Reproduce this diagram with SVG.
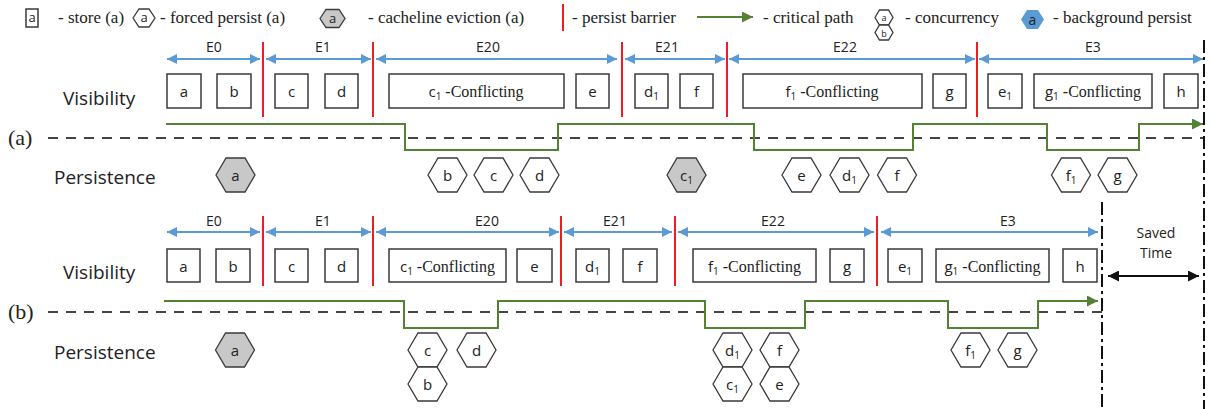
<svg xmlns="http://www.w3.org/2000/svg" xmlns:xlink="http://www.w3.org/1999/xlink" width="1210" height="409" viewBox="0 0 1210 409">
<style>
.box{fill:#fff;stroke:#3a3a3a;stroke-width:1.5}
.hex{fill:#fff;stroke:#3a3a3a;stroke-width:1.3}
.hexg{fill:#c8c8c8;stroke:#3a3a3a;stroke-width:1.3}
.sans{font-family:"Open Sans","Liberation Sans",sans-serif;fill:#222}
.serif{font-family:"Liberation Serif","Times New Roman",serif;fill:#222}
.bt{font-family:"Open Sans","Liberation Sans",sans-serif;font-size:15px;fill:#222;text-anchor:middle}
.lbl{font-family:"Open Sans","Liberation Sans",sans-serif;font-size:19px;fill:#222}
.elbl{font-family:"Open Sans","Liberation Sans",sans-serif;font-size:14px;fill:#222;text-anchor:middle}
.leg{font-family:"Liberation Serif","Times New Roman",serif;font-size:17px;fill:#222}
.sub{font-size:10px}
.blue{stroke:#5b9bd5;stroke-width:2;fill:none;marker-start:url(#ab);marker-end:url(#ab)}
.red{stroke:#ee1c25;stroke-width:2}
.green{stroke:#548235;stroke-width:2;fill:none}
.dash{stroke:#444;stroke-width:2;stroke-dasharray:10 8;fill:none}
.vdash{stroke:#111;stroke-width:2;stroke-dasharray:13 4 3 4;fill:none}
</style>
<defs>
<marker id="ab" viewBox="0 0 10 10" refX="10" refY="5" markerWidth="11" markerHeight="10" markerUnits="userSpaceOnUse" orient="auto-start-reverse"><path d="M0,0 L10,5 L0,10 z" fill="#5b9bd5"/></marker>
<marker id="ag" viewBox="0 0 10 10" refX="10" refY="5" markerWidth="12" markerHeight="11" markerUnits="userSpaceOnUse" orient="auto"><path d="M0,0 L10,5 L0,10 z" fill="#548235"/></marker>
<marker id="ak" viewBox="0 0 10 10" refX="10" refY="5" markerWidth="12" markerHeight="11" markerUnits="userSpaceOnUse" orient="auto-start-reverse"><path d="M0,0 L10,5 L0,10 z" fill="#111"/></marker>
<polygon id="hx" points="-19.5,0 -9.5,-17 9.5,-17 19.5,0 9.5,17 -9.5,17"/>
</defs>

<!-- Legend -->
<g id="legend">
  <rect x="26" y="9" width="12" height="18" class="box"/>
  <text x="32" y="22" class="sans" font-size="13" text-anchor="middle">a</text>
  <text x="58" y="23" class="leg">- store (a)</text>
  <polygon points="133,18 139,9 149,9 155,18 149,27 139,27" class="hex"/>
  <text x="144" y="22" class="sans" font-size="13" text-anchor="middle">a</text>
  <text x="160" y="23" class="leg">- forced persist (a)</text>
  <polygon points="320,18.5 326,9.5 339,9.5 345,18.5 339,27.5 326,27.5" class="hexg"/>
  <text x="332.5" y="23" class="sans" font-size="13" text-anchor="middle">a</text>
  <text x="368" y="23" class="leg">- cacheline eviction (a)</text>
  <line x1="563" y1="4" x2="563" y2="31" class="red"/>
  <text x="572" y="23" class="leg">- persist barrier</text>
  <line x1="697" y1="17" x2="753" y2="17" class="green" marker-end="url(#ag)"/>
  <text x="763" y="23" class="leg">- critical path</text>
  <polygon points="875,17.5 879.5,10 888.5,10 893,17.5 888.5,25 879.5,25" class="hex" stroke-width="1"/>
  <polygon points="875,32.5 879.5,25 888.5,25 893,32.5 888.5,40 879.5,40" class="hex" stroke-width="1"/>
  <text x="884" y="21" class="sans" font-size="9" text-anchor="middle">a</text>
  <text x="884" y="36.5" class="sans" font-size="9" text-anchor="middle">b</text>
  <text x="905" y="23" class="leg">- concurrency</text>
  <polygon points="1021,19.5 1027,10 1038,10 1044,19.5 1038,29 1027,29" fill="#5b9bd5"/>
  <text x="1032.5" y="24.5" class="sans" font-size="14" text-anchor="middle">a</text>
  <text x="1053" y="23" class="leg">- background persist</text>
</g>

<!-- Labels -->
<g id="labels">
  <text x="63" y="105" class="lbl">Visibility</text>
  <text x="54" y="184" class="lbl">Persistence</text>
  <text x="8" y="145" class="serif" font-size="22">(a)</text>
  <text x="63" y="279" class="lbl">Visibility</text>
  <text x="54" y="359" class="lbl">Persistence</text>
  <text x="8" y="319" class="serif" font-size="22">(b)</text>
  <text x="1156" y="238" class="elbl">Saved</text>
  <text x="1156" y="258" class="elbl">Time</text>
</g>

<!-- Connectors -->
<g id="connectors">
  <!-- (a) epoch arrows -->
  <line x1="167" y1="59" x2="260" y2="59" class="blue"/>
  <line x1="266" y1="59" x2="371" y2="59" class="blue"/>
  <line x1="376" y1="59" x2="617" y2="59" class="blue"/>
  <line x1="625" y1="59" x2="725" y2="59" class="blue"/>
  <line x1="729" y1="59" x2="975" y2="59" class="blue"/>
  <line x1="979" y1="59" x2="1203" y2="59" class="blue"/>
  <!-- (a) barriers -->
  <line x1="263" y1="42" x2="263" y2="117" class="red"/>
  <line x1="373" y1="42" x2="373" y2="117" class="red"/>
  <line x1="622" y1="42" x2="622" y2="117" class="red"/>
  <line x1="727" y1="42" x2="727" y2="117" class="red"/>
  <line x1="977" y1="42" x2="977" y2="117" class="red"/>
  <!-- (a) critical path -->
  <line x1="48" y1="138" x2="1203" y2="138" class="dash"/>
  <path d="M166,124 H405 V150 H558 V124 H754 V150 H913 V124 H1047 V150 H1139 V124 H1203" class="green" marker-end="url(#ag)"/>
  <!-- (b) epoch arrows -->
  <line x1="167" y1="232" x2="260" y2="232" class="blue"/>
  <line x1="266" y1="232" x2="371" y2="232" class="blue"/>
  <line x1="376" y1="232" x2="559" y2="232" class="blue"/>
  <line x1="564" y1="232" x2="672" y2="232" class="blue"/>
  <line x1="678" y1="232" x2="874" y2="232" class="blue"/>
  <line x1="881" y1="232" x2="1098" y2="232" class="blue"/>
  <!-- (b) barriers -->
  <line x1="263" y1="216" x2="263" y2="286" class="red"/>
  <line x1="373" y1="216" x2="373" y2="286" class="red"/>
  <line x1="561" y1="216" x2="561" y2="286" class="red"/>
  <line x1="675" y1="216" x2="675" y2="286" class="red"/>
  <line x1="877" y1="216" x2="877" y2="286" class="red"/>
  <!-- (b) critical path -->
  <line x1="48" y1="312" x2="1102" y2="312" class="dash" stroke="#222" stroke-width="1.6"/>
  <path d="M164,301 H404 V328 H498 V301 H705 V328 H805 V301 H948 V328 H1038 V301 H1098" class="green" marker-end="url(#ag)"/>
  <!-- vertical markers and saved time -->
  <line x1="1204" y1="40" x2="1204" y2="409" class="vdash"/>
  <line x1="1102" y1="202" x2="1102" y2="409" class="vdash"/>
  <line x1="1108" y1="276" x2="1199" y2="276" stroke="#111" stroke-width="2" marker-start="url(#ak)" marker-end="url(#ak)"/>
</g>

<!-- Epoch labels -->
<g id="epochs">
  <text x="214" y="52" class="elbl">E0</text>
  <text x="323" y="52" class="elbl">E1</text>
  <text x="488" y="52" class="elbl">E20</text>
  <text x="667" y="52" class="elbl">E21</text>
  <text x="845" y="52" class="elbl">E22</text>
  <text x="1093" y="52" class="elbl">E3</text>
  <text x="214" y="226" class="elbl">E0</text>
  <text x="323" y="226" class="elbl">E1</text>
  <text x="487" y="226" class="elbl">E20</text>
  <text x="615" y="226" class="elbl">E21</text>
  <text x="773" y="226" class="elbl">E22</text>
  <text x="1008" y="226" class="elbl">E3</text>
</g>

<!-- (a) Visibility stores -->
<g id="va-a"><rect x="167" y="74" width="34" height="34" class="box"/><text x="184" y="97" class="bt">a</text></g>
<g id="va-b"><rect x="217" y="74" width="34" height="34" class="box"/><text x="234" y="97" class="bt">b</text></g>
<g id="va-c"><rect x="275" y="74" width="33" height="34" class="box"/><text x="291.5" y="97" class="bt">c</text></g>
<g id="va-d"><rect x="325" y="74" width="33" height="34" class="box"/><text x="341.5" y="97" class="bt">d</text></g>
<g id="va-c1"><rect x="389" y="74" width="175" height="34" class="box"/><text x="476" y="97" class="bt"><tspan>c</tspan><tspan class="sub" dy="3">1</tspan><tspan dy="-3" class="serif" font-size="16"> -Conflicting</tspan></text></g>
<g id="va-e"><rect x="576" y="74" width="33" height="34" class="box"/><text x="592.5" y="97" class="bt">e</text></g>
<g id="va-d1"><rect x="635" y="74" width="33" height="34" class="box"/><text x="651.5" y="97" class="bt"><tspan>d</tspan><tspan class="sub" dy="3">1</tspan></text></g>
<g id="va-f"><rect x="680" y="74" width="33" height="34" class="box"/><text x="696.5" y="97" class="bt">f</text></g>
<g id="va-f1"><rect x="743" y="74" width="179" height="34" class="box"/><text x="832" y="97" class="bt"><tspan>f</tspan><tspan class="sub" dy="3">1</tspan><tspan dy="-3" class="serif" font-size="16"> -Conflicting</tspan></text></g>
<g id="va-g"><rect x="933" y="74" width="33" height="34" class="box"/><text x="949.5" y="97" class="bt">g</text></g>
<g id="va-e1"><rect x="988" y="74" width="34" height="34" class="box"/><text x="1005" y="97" class="bt"><tspan>e</tspan><tspan class="sub" dy="3">1</tspan></text></g>
<g id="va-g1"><rect x="1034" y="74" width="118" height="34" class="box"/><text x="1093" y="97" class="bt"><tspan>g</tspan><tspan class="sub" dy="3">1</tspan><tspan dy="-3" class="serif" font-size="16"> -Conflicting</tspan></text></g>
<g id="va-h"><rect x="1164" y="74" width="34" height="34" class="box"/><text x="1181" y="97" class="bt">h</text></g>

<!-- (a) Persistence -->
<g id="pa-a" transform="translate(235.5,175)"><use xlink:href="#hx" class="hexg"/><text y="6" class="bt">a</text></g>
<g id="pa-b" transform="translate(447.5,175)"><use xlink:href="#hx" class="hex"/><text y="6" class="bt">b</text></g>
<g id="pa-c" transform="translate(493.5,175)"><use xlink:href="#hx" class="hex"/><text y="6" class="bt">c</text></g>
<g id="pa-d" transform="translate(539.5,175)"><use xlink:href="#hx" class="hex"/><text y="6" class="bt">d</text></g>
<g id="pa-c1" transform="translate(686.5,175)"><use xlink:href="#hx" class="hexg"/><text y="6" class="bt"><tspan>c</tspan><tspan class="sub" dy="3">1</tspan></text></g>
<g id="pa-e" transform="translate(801.5,175)"><use xlink:href="#hx" class="hex"/><text y="6" class="bt">e</text></g>
<g id="pa-d1" transform="translate(849.5,175)"><use xlink:href="#hx" class="hex"/><text y="6" class="bt"><tspan>d</tspan><tspan class="sub" dy="3">1</tspan></text></g>
<g id="pa-f" transform="translate(897,175)"><use xlink:href="#hx" class="hex"/><text y="6" class="bt">f</text></g>
<g id="pa-f1" transform="translate(1071,175)"><use xlink:href="#hx" class="hex"/><text y="6" class="bt"><tspan>f</tspan><tspan class="sub" dy="3">1</tspan></text></g>
<g id="pa-g" transform="translate(1117.5,175)"><use xlink:href="#hx" class="hex"/><text y="6" class="bt">g</text></g>

<!-- (b) Visibility stores -->
<g id="vb-a"><rect x="167" y="249" width="33" height="33" class="box"/><text x="183.5" y="272" class="bt">a</text></g>
<g id="vb-b"><rect x="216" y="249" width="34" height="33" class="box"/><text x="233" y="272" class="bt">b</text></g>
<g id="vb-c"><rect x="275" y="249" width="33" height="33" class="box"/><text x="291.5" y="272" class="bt">c</text></g>
<g id="vb-d"><rect x="325" y="249" width="33" height="33" class="box"/><text x="341.5" y="272" class="bt">d</text></g>
<g id="vb-c1"><rect x="389" y="249" width="117" height="33" class="box"/><text x="447.5" y="272" class="bt"><tspan>c</tspan><tspan class="sub" dy="3">1</tspan><tspan dy="-3" class="serif" font-size="16"> -Conflicting</tspan></text></g>
<g id="vb-e"><rect x="517" y="249" width="35" height="33" class="box"/><text x="534.5" y="272" class="bt">e</text></g>
<g id="vb-d1"><rect x="576" y="249" width="33" height="33" class="box"/><text x="592.5" y="272" class="bt"><tspan>d</tspan><tspan class="sub" dy="3">1</tspan></text></g>
<g id="vb-f"><rect x="623" y="249" width="34" height="33" class="box"/><text x="640" y="272" class="bt">f</text></g>
<g id="vb-f1"><rect x="693" y="249" width="123" height="33" class="box"/><text x="754.5" y="272" class="bt"><tspan>f</tspan><tspan class="sub" dy="3">1</tspan><tspan dy="-3" class="serif" font-size="16"> -Conflicting</tspan></text></g>
<g id="vb-g"><rect x="830" y="249" width="34" height="33" class="box"/><text x="847" y="272" class="bt">g</text></g>
<g id="vb-e1"><rect x="888" y="249" width="34" height="33" class="box"/><text x="905" y="272" class="bt"><tspan>e</tspan><tspan class="sub" dy="3">1</tspan></text></g>
<g id="vb-g1"><rect x="936" y="249" width="113" height="33" class="box"/><text x="992.5" y="272" class="bt"><tspan>g</tspan><tspan class="sub" dy="3">1</tspan><tspan dy="-3" class="serif" font-size="16"> -Conflicting</tspan></text></g>
<g id="vb-h"><rect x="1063" y="249" width="34" height="33" class="box"/><text x="1080" y="272" class="bt">h</text></g>

<!-- (b) Persistence -->
<g id="pb-a" transform="translate(235,350)"><use xlink:href="#hx" class="hexg"/><text y="6" class="bt">a</text></g>
<g id="pb-c" transform="translate(427.5,350)"><use xlink:href="#hx" class="hex"/><text y="6" class="bt">c</text></g>
<g id="pb-b" transform="translate(427.5,384)"><use xlink:href="#hx" class="hex"/><text y="6" class="bt">b</text></g>
<g id="pb-d" transform="translate(476.5,350)"><use xlink:href="#hx" class="hex"/><text y="6" class="bt">d</text></g>
<g id="pb-d1" transform="translate(732.5,350)"><use xlink:href="#hx" class="hex"/><text y="6" class="bt"><tspan>d</tspan><tspan class="sub" dy="3">1</tspan></text></g>
<g id="pb-c1" transform="translate(732.5,384)"><use xlink:href="#hx" class="hex"/><text y="6" class="bt"><tspan>c</tspan><tspan class="sub" dy="3">1</tspan></text></g>
<g id="pb-f" transform="translate(779.5,350)"><use xlink:href="#hx" class="hex"/><text y="6" class="bt">f</text></g>
<g id="pb-e" transform="translate(779.5,384)"><use xlink:href="#hx" class="hex"/><text y="6" class="bt">e</text></g>
<g id="pb-f1" transform="translate(970.5,350)"><use xlink:href="#hx" class="hex"/><text y="6" class="bt"><tspan>f</tspan><tspan class="sub" dy="3">1</tspan></text></g>
<g id="pb-g" transform="translate(1017.5,350)"><use xlink:href="#hx" class="hex"/><text y="6" class="bt">g</text></g>
</svg>
